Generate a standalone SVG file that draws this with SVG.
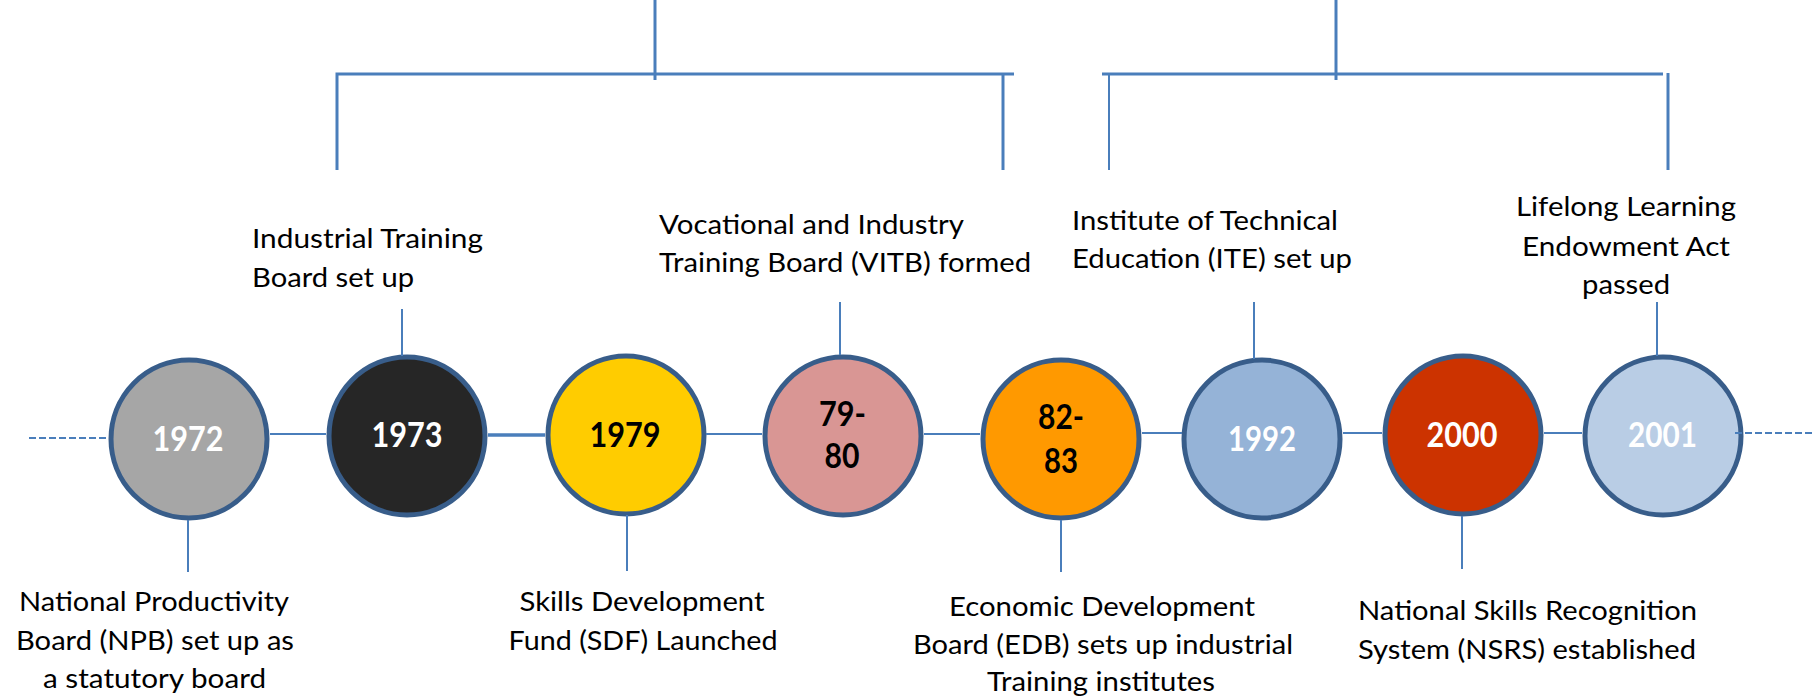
<svg xmlns="http://www.w3.org/2000/svg" width="1815" height="698" viewBox="0 0 1815 698">
  <style>
    .dot { stroke: #385D8A; stroke-width: 5; }
    .yr { font-family: Lato, "Open Sans", "Liberation Sans", sans-serif; font-weight: 700; font-size: 34px; text-anchor: middle; }
    .cap { font-family: Lato, "Open Sans", "Liberation Sans", sans-serif; font-size: 27.5px; fill: #000; }
    .mid { text-anchor: middle; }
    .ln { stroke: #4A7EBB; fill: none; stroke-width: 2; }
    .thick { stroke-width: 3.5; }
    .br { stroke-width: 3; }
    .dash { stroke-dasharray: 7 3; }
  </style>
  <rect width="1815" height="698" fill="#fff"/>

  <!-- timeline nodes -->
  <g id="n1972">
    <ellipse class="dot" cx="189" cy="439" rx="78" ry="79" fill="#A6A6A6"/>
    <text class="yr" x="188" y="451" fill="#fff" textLength="71" lengthAdjust="spacingAndGlyphs">1972</text>
    <text class="cap mid" x="154" y="611" textLength="270" lengthAdjust="spacingAndGlyphs">National Productivity</text>
    <text class="cap mid" x="155" y="650" textLength="278" lengthAdjust="spacingAndGlyphs">Board (NPB) set up as</text>
    <text class="cap mid" x="154.5" y="688" textLength="223" lengthAdjust="spacingAndGlyphs">a statutory board</text>
  </g>
  <g id="n1973">
    <ellipse class="dot" cx="407" cy="436" rx="78" ry="79" fill="#262626"/>
    <text class="yr" x="407" y="447" fill="#fff" textLength="71" lengthAdjust="spacingAndGlyphs">1973</text>
    <text class="cap" x="252" y="248" textLength="231" lengthAdjust="spacingAndGlyphs">Industrial Training</text>
    <text class="cap" x="252" y="287" textLength="162" lengthAdjust="spacingAndGlyphs">Board set up</text>
  </g>
  <g id="n1979">
    <ellipse class="dot" cx="626" cy="435" rx="78" ry="79" fill="#FFCC00"/>
    <text class="yr" x="625" y="447" fill="#000" textLength="71" lengthAdjust="spacingAndGlyphs">1979</text>
    <text class="cap mid" x="642" y="611" textLength="245" lengthAdjust="spacingAndGlyphs">Skills Development</text>
    <text class="cap mid" x="643" y="650" textLength="269" lengthAdjust="spacingAndGlyphs">Fund (SDF) Launched</text>
  </g>
  <g id="n7980">
    <ellipse class="dot" cx="843" cy="436" rx="78" ry="79" fill="#D99694"/>
    <text class="yr" x="842.5" y="426" fill="#000" textLength="47" lengthAdjust="spacingAndGlyphs">79-</text>
    <text class="yr" x="842" y="468" fill="#000" textLength="35" lengthAdjust="spacingAndGlyphs">80</text>
    <text class="cap" x="659" y="234" textLength="305" lengthAdjust="spacingAndGlyphs">Vocational and Industry</text>
    <text class="cap" x="659" y="272" textLength="372" lengthAdjust="spacingAndGlyphs">Training Board (VITB) formed</text>
  </g>
  <g id="n8283">
    <ellipse class="dot" cx="1061" cy="439" rx="78" ry="79" fill="#FF9900"/>
    <text class="yr" x="1061" y="429" fill="#000" textLength="46" lengthAdjust="spacingAndGlyphs">82-</text>
    <text class="yr" x="1061" y="473" fill="#000" textLength="34" lengthAdjust="spacingAndGlyphs">83</text>
    <text class="cap mid" x="1102" y="616" textLength="306" lengthAdjust="spacingAndGlyphs">Economic Development</text>
    <text class="cap mid" x="1103" y="654" textLength="380" lengthAdjust="spacingAndGlyphs">Board (EDB) sets up industrial</text>
    <text class="cap mid" x="1101" y="691" textLength="228" lengthAdjust="spacingAndGlyphs">Training institutes</text>
  </g>
  <g id="n1992">
    <ellipse class="dot" cx="1262" cy="439" rx="78" ry="79" fill="#95B3D7"/>
    <text class="yr" x="1262" y="451" fill="#fff" textLength="68" lengthAdjust="spacingAndGlyphs">1992</text>
    <text class="cap" x="1072" y="230" textLength="266" lengthAdjust="spacingAndGlyphs">Institute of Technical</text>
    <text class="cap" x="1072" y="268" textLength="280" lengthAdjust="spacingAndGlyphs">Education (ITE) set up</text>
  </g>
  <g id="n2000">
    <ellipse class="dot" cx="1463" cy="435" rx="78" ry="79" fill="#CC3300"/>
    <text class="yr" x="1462" y="447" fill="#fff" textLength="71" lengthAdjust="spacingAndGlyphs">2000</text>
    <text class="cap" x="1358" y="620" textLength="339" lengthAdjust="spacingAndGlyphs">National Skills Recognition</text>
    <text class="cap" x="1358" y="659" textLength="338" lengthAdjust="spacingAndGlyphs">System (NSRS) established</text>
  </g>
  <g id="n2001">
    <ellipse class="dot" cx="1663" cy="436" rx="78" ry="79" fill="#B9CDE5"/>
    <text class="yr" x="1662.5" y="447" fill="#fff" textLength="69" lengthAdjust="spacingAndGlyphs">2001</text>
    <text class="cap mid" x="1626" y="216" textLength="220" lengthAdjust="spacingAndGlyphs">Lifelong Learning</text>
    <text class="cap mid" x="1626" y="256" textLength="208" lengthAdjust="spacingAndGlyphs">Endowment Act</text>
    <text class="cap mid" x="1626" y="294" textLength="88" lengthAdjust="spacingAndGlyphs">passed</text>
  </g>

  <!-- connectors: timeline, ticks and brackets -->
  <g id="connectors" class="ln">
    <line class="dash" x1="29" y1="438" x2="108" y2="438"/>
    <line x1="270" y1="434" x2="326" y2="434"/>
    <line class="thick" x1="488" y1="435" x2="545" y2="435"/>
    <line x1="706" y1="434" x2="762" y2="434"/>
    <line x1="924" y1="434" x2="980" y2="434"/>
    <line x1="1142" y1="433" x2="1182" y2="433"/>
    <line x1="1343" y1="433" x2="1382" y2="433"/>
    <line x1="1544" y1="433" x2="1582" y2="433"/>
    <line class="dash" x1="1735" y1="433" x2="1815" y2="433"/>

    <line x1="188" y1="520" x2="188" y2="572"/>
    <line x1="402" y1="309" x2="402" y2="356"/>
    <line x1="627" y1="515" x2="627" y2="571"/>
    <line x1="840" y1="302" x2="840" y2="355"/>
    <line x1="1061" y1="520" x2="1061" y2="572"/>
    <line x1="1254" y1="302" x2="1254" y2="359"/>
    <line x1="1462" y1="516" x2="1462" y2="569"/>
    <line x1="1657" y1="302" x2="1657" y2="356"/>

    <path class="br" d="M337,170 V74 H1014"/>
    <path class="br" d="M1003,75 V170"/>
    <path class="br" d="M655,0 V80"/>
    <path class="br" d="M1102,74 H1663"/>
    <path d="M1109,74 V170"/>
    <path class="br" d="M1668,73 V170"/>
    <path class="br" d="M1336,0 V80"/>
  </g>
</svg>
